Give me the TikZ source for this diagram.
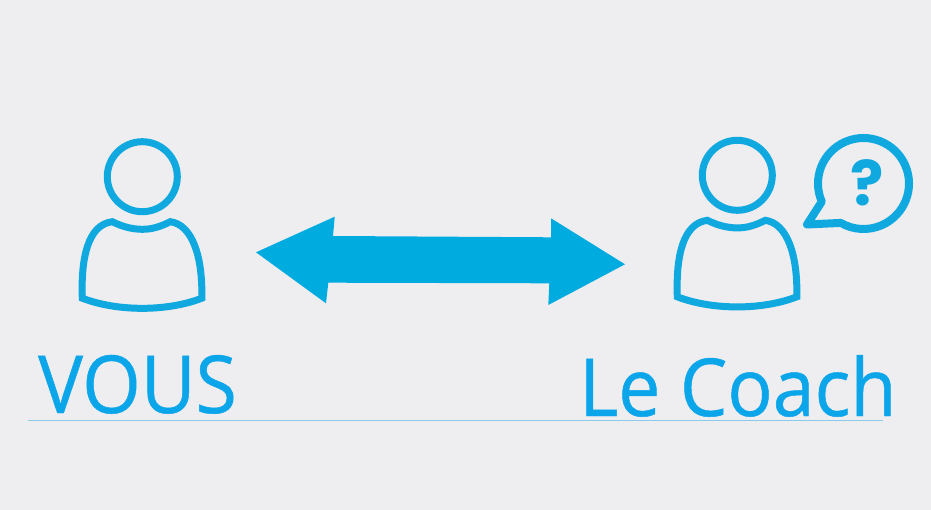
\documentclass[tikz,border=0pt]{standalone}
\usepackage{xcolor}
\usepackage{fontspec}
\setmainfont[FakeStretch=0.94,FakeBold=0.6]{Open Sans}
\newfontfamily\questionfont{Poppins}
\usetikzlibrary{positioning,calc}
\definecolor{fondgris}{HTML}{EEEDF0}
\definecolor{bleuicone}{HTML}{0FA9E0}
\definecolor{bleufleche}{HTML}{00ABE0}
\definecolor{bleutexte}{HTML}{0BA5EA}
\definecolor{bleuligne}{HTML}{8CCBE8}
\tikzset{
    trait/.style={draw=bleuicone, line width=7pt, line join=miter, fill=none},
    titre/.style={text=bleutexte, font=\fontsize{80}{80}\selectfont, anchor=base west, inner sep=0pt},
    person/.pic={
        \node[circle, trait, minimum size=70pt, inner sep=0pt] (-head) at (0,0) {};
        \draw[trait] (-60,121.5) .. controls (-61.5,80) and (-54,48) .. (-30,45)
            .. controls (-20,50) and (-10,52.6) .. (0,52.6)
            .. controls (10,52.6) and (18,50) .. (28,45)
            .. controls (50,48) and (60.5,80) .. (59.5,121.5)
            .. controls (25,135) and (-25,135) .. cycle;
    }
}
\begin{document}
\begin{tikzpicture}[x=1pt, y=-1pt]
    \fill[fondgris] (0,0) rectangle (931,510);
    \useasboundingbox (0,0) rectangle (931,510);
    % personnes
    \pic (vous) at (142.3,176.7) {person};
    \pic (coach) at (737.3,175.3) {person};
    % double fleche
    \fill[bleufleche] (256,252.3) -- (334.7,216.7) -- (333,236) -- (551,237.3) -- (551,218.3)
        -- (625,264.3) -- (548.3,305) -- (549.3,283.3) -- (328.3,282.7) -- (326,303.3) -- cycle;
    % bulle
    \coordinate (bulle) at (863.5,183.5);
    \draw[draw=bleuicone, line width=8pt, line join=round]
        ($(bulle)+(156.5:45.5)$) arc[start angle=156.5, end angle=480, radius=45.5]
        -- (807,224.5) -- cycle;
    \node[text=bleuicone, font=\fontsize{62}{62}\selectfont\questionfont\bfseries, inner sep=0pt] (question) at (867,183) {?};
    % titres
    \node[titre] (vousText) at (38,413) {VOUS};
    \node[titre] (coachText) at (579,416) {Le Coach};
    \coordinate (ligneA) at (28,420);
    \coordinate (ligneB) at (883,420);
    \draw[bleuligne, line width=1pt] (ligneA) -- (ligneB);
\end{tikzpicture}
\end{document}
